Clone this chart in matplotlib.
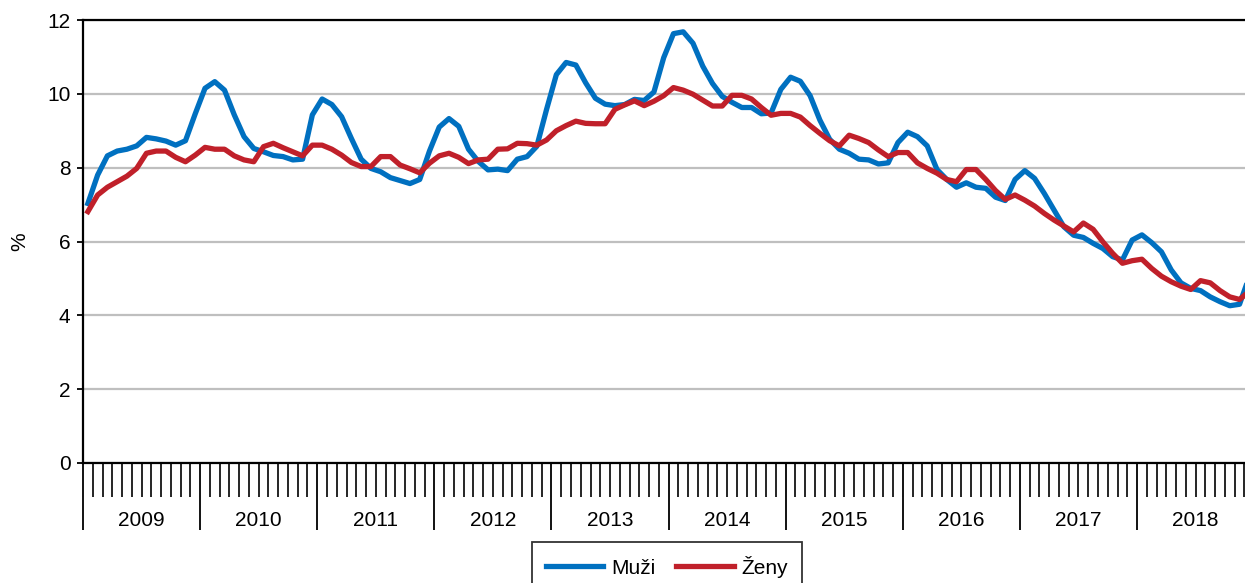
import numpy as np
import matplotlib.pyplot as plt

plt.rcParams['font.family'] = ['Liberation Sans', 'DejaVu Sans']

# monthly share of unemployed, Jan 2009 - Dec 2018
years = [2009, 2010, 2011, 2012, 2013, 2014, 2015, 2016, 2017, 2018]

muzi = [
    7.03, 7.80, 8.32, 8.45, 8.50, 8.59, 8.82, 8.78, 8.72, 8.61, 8.73, 9.46,
    10.15, 10.33, 10.10, 9.43, 8.84, 8.52, 8.43, 8.33, 8.30, 8.21, 8.23, 9.43,
    9.86, 9.71, 9.38, 8.79, 8.23, 7.98, 7.89, 7.73, 7.65, 7.57, 7.68, 8.45,
    9.10, 9.33, 9.12, 8.50, 8.17, 7.94, 7.96, 7.92, 8.23, 8.30, 8.58, 9.58,
    10.52, 10.85, 10.78, 10.30, 9.88, 9.72, 9.68, 9.71, 9.85, 9.82, 10.05, 10.98,
    11.63, 11.68, 11.37, 10.75, 10.28, 9.93, 9.77, 9.63, 9.63, 9.46, 9.48, 10.12,
    10.45, 10.34, 9.95, 9.29, 8.77, 8.50, 8.39, 8.23, 8.21, 8.10, 8.13, 8.68,
    8.96, 8.84, 8.59, 7.95, 7.68, 7.47, 7.59, 7.47, 7.44, 7.20, 7.11, 7.68,
    7.92, 7.71, 7.30, 6.85, 6.40, 6.17, 6.11, 5.95, 5.81, 5.59, 5.50, 6.04,
    6.18, 5.97, 5.72, 5.23, 4.88, 4.73, 4.67, 4.50, 4.37, 4.26, 4.30, 5.05,
]

zeny = [
    6.81, 7.26, 7.47, 7.62, 7.77, 7.98, 8.39, 8.45, 8.45, 8.28, 8.16, 8.34,
    8.55, 8.50, 8.50, 8.32, 8.21, 8.16, 8.57, 8.66, 8.54, 8.43, 8.32, 8.61,
    8.61, 8.50, 8.34, 8.14, 8.03, 8.03, 8.30, 8.30, 8.07, 7.97, 7.86, 8.12,
    8.32, 8.39, 8.28, 8.11, 8.21, 8.23, 8.50, 8.51, 8.66, 8.65, 8.61, 8.75,
    9.00, 9.14, 9.26, 9.20, 9.19, 9.19, 9.58, 9.70, 9.81, 9.68, 9.80, 9.95,
    10.17, 10.10, 9.99, 9.83, 9.67, 9.67, 9.96, 9.96, 9.86, 9.63, 9.42, 9.47,
    9.47, 9.37, 9.14, 8.93, 8.73, 8.59, 8.88, 8.79, 8.68, 8.48, 8.30, 8.41,
    8.41, 8.13, 7.98, 7.85, 7.68, 7.62, 7.95, 7.95, 7.68, 7.38, 7.14, 7.26,
    7.12, 6.96, 6.76, 6.58, 6.42, 6.26, 6.50, 6.33, 5.99, 5.68, 5.41, 5.48,
    5.52, 5.27, 5.06, 4.91, 4.79, 4.70, 4.94, 4.88, 4.67, 4.50, 4.43, 4.65,
]

W, H = 1245, 583
fig = plt.figure(figsize=(W / 100, H / 100), dpi=100)
ax = fig.add_axes([83 / W, 120 / H, (W - 83) / W, 443 / H])

x = np.arange(len(muzi)) + 0.5
ax.plot(x, muzi, color='#0070C0', lw=3.8, label='Muži', solid_joinstyle='round')
ax.plot(x, zeny, color='#C0202A', lw=3.8, label='Ženy', solid_joinstyle='round')

# month ticks plus long year dividers
ax.set_xticks(np.arange(0, 120, 12))
ax.set_xticks(np.arange(0, 120), minor=True)
ax.set_xticklabels([])
ax.tick_params(axis='x', which='minor', direction='out', length=24.5, width=1.2)
ax.tick_params(axis='x', which='major', direction='out', length=48.5, width=1.3)

ax.set_ylim(0, 12)
ax.set_xlim(0, 119.06)
ax.set_yticks(range(0, 13, 2))
ax.yaxis.grid(True, color='#BFBFBF', lw=1.6)
ax.set_axisbelow(True)
ax.tick_params(axis='y', labelsize=15, length=4, width=1.3, pad=5)
ax.set_ylabel('%', fontsize=15)
ax.yaxis.set_label_coords(-0.046, 0.5)

for i, yr in enumerate(years):
    ax.text(12 * i + 6, -57 / 443, str(yr), transform=ax.get_xaxis_transform(),
            ha='center', va='center', fontsize=15)

for side in ['left', 'bottom', 'top']:
    ax.spines[side].set_linewidth(1.6)
    ax.spines[side].set_color('black')
ax.spines['right'].set_visible(False)

leg = fig.legend(loc='upper center', bbox_to_anchor=(667 / W, 1 - 542 / H), ncol=2,
                 fontsize=15, frameon=True, fancybox=False, edgecolor='black',
                 handlelength=2.75, handletextpad=0.4, columnspacing=1.0,
                 borderpad=0.65, borderaxespad=0)
leg.get_frame().set_linewidth(1.3)

fig.savefig('out.png', dpi=100)
